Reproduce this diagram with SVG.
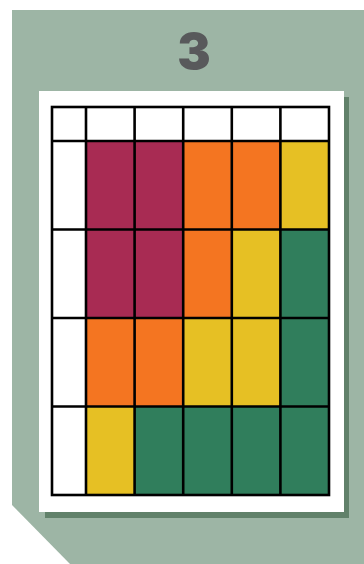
<svg xmlns="http://www.w3.org/2000/svg" width="364" height="564" viewBox="0 0 364 564">
<style>
.m{fill:#a82b53}.o{fill:#f47521}.y{fill:#e6c024}.g{fill:#307e5c}.w{fill:#ffffff}
.ln{stroke:#000;stroke-width:2.6;fill:none}
</style>
<polygon points="12,10 364,10 364,564 70,564 12,505" fill="#9db5a5"/>
<text x="194" y="69" font-family="Inter, 'DejaVu Sans', sans-serif" font-weight="900" font-size="50" fill="#58595b" text-anchor="middle">3</text>
<rect x="45" y="97" width="304" height="421" fill="#61816a"/>
<rect x="39" y="91" width="305" height="421" fill="#ffffff"/>
<g id="cells">
<rect class="w" x="52" y="107" width="277" height="388"/>
<rect class="m" x="86" y="141" width="48.6" height="88.5"/>
<rect class="m" x="134.6" y="141" width="48.6" height="88.5"/>
<rect class="o" x="183.2" y="141" width="48.6" height="88.5"/>
<rect class="o" x="231.8" y="141" width="48.6" height="88.5"/>
<rect class="y" x="280.4" y="141" width="48.6" height="88.5"/>
<rect class="m" x="86" y="229.5" width="48.6" height="88.5"/>
<rect class="m" x="134.6" y="229.5" width="48.6" height="88.5"/>
<rect class="o" x="183.2" y="229.5" width="48.6" height="88.5"/>
<rect class="y" x="231.8" y="229.5" width="48.6" height="88.5"/>
<rect class="g" x="280.4" y="229.5" width="48.6" height="88.5"/>
<rect class="o" x="86" y="318" width="48.6" height="88.5"/>
<rect class="o" x="134.6" y="318" width="48.6" height="88.5"/>
<rect class="y" x="183.2" y="318" width="48.6" height="88.5"/>
<rect class="y" x="231.8" y="318" width="48.6" height="88.5"/>
<rect class="g" x="280.4" y="318" width="48.6" height="88.5"/>
<rect class="y" x="86" y="406.5" width="48.6" height="88.5"/>
<rect class="g" x="134.6" y="406.5" width="48.6" height="88.5"/>
<rect class="g" x="183.2" y="406.5" width="48.6" height="88.5"/>
<rect class="g" x="231.8" y="406.5" width="48.6" height="88.5"/>
<rect class="g" x="280.4" y="406.5" width="48.6" height="88.5"/>
</g>
<g id="gridlines" class="ln">
<rect x="52" y="107" width="277" height="388"/>
<path d="M86 107V495M134.6 107V495M183.2 107V495M231.8 107V495M280.4 107V495M52 141H329M52 229.5H329M52 318H329M52 406.5H329"/>
</g>
</svg>
